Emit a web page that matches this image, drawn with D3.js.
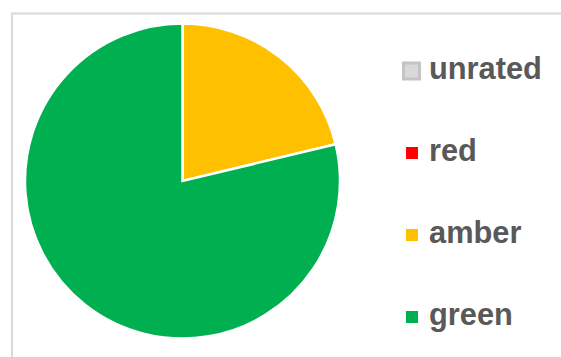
<!DOCTYPE html>
<html>
<head>
<meta charset="utf-8">
<script src="https://cdn.jsdelivr.net/npm/d3@7"></script>
<style>
  body { margin: 0; background: #fff; }
  svg { display: block; }
  .leg text { font-family: "Liberation Sans", Arial, sans-serif; font-weight: bold; font-size: 30.8px; fill: #595959; }
</style>
</head>
<body>
<svg id="chart"></svg>
<script>
// ratings and their counts
let categories = ['unrated', 'red', 'amber', 'green']
let counts = [0, 0, 17, 63]
let colors = ['#d9d9d9', '#ff0000', '#ffc000', '#00b050']

let width = 561
let height = 357

let svg = d3.select('#chart').attr('width', width).attr('height', height)

// chart area frame
svg.append('rect')
	.attr('x', 12).attr('y', 13.5)
	.attr('width', width + 10).attr('height', height + 10)
	.attr('fill', 'none')
	.attr('stroke', '#d9d9d9')
	.attr('stroke-width', 2)

let data = categories.map((c, i) => ({name: c, value: counts[i], color: colors[i]}))

let pie = d3.pie().sort(null).value(d => d.value)
let radius = 157.5
let arc = d3.arc().innerRadius(0).outerRadius(radius)

let pieG = svg.append('g')
	.attr('transform', `translate(182.5, 181)`)

pieG.selectAll('path')
	.data(pie(data).filter(d => d.data.value > 0))
	.enter().append('path')
	.attr('d', arc)
	.attr('fill', d => d.data.color)
	.attr('stroke', '#fff')
	.attr('stroke-width', 2.5)
	.attr('stroke-linejoin', 'miter')

// legend
let legY = d3.scalePoint()
	.domain(categories)
	.range([71, 317])

let leg = svg.append('g').attr('class', 'leg')

let items = leg.selectAll('g').data(data).enter().append('g')
	.attr('transform', d => `translate(0, ${legY(d.name)})`)

items.append('rect')
	.attr('x', d => d.name == 'unrated' ? 403.5 : 406)
	.attr('y', d => d.name == 'unrated' ? -8 : -6)
	.attr('width', d => d.name == 'unrated' ? 16 : 12)
	.attr('height', d => d.name == 'unrated' ? 16 : 12)
	.attr('fill', d => d.color)
	.attr('stroke', d => d.name == 'unrated' ? '#c4c4c4' : 'none')
	.attr('stroke-width', 3)

items.append('text')
	.attr('x', 429)
	.attr('y', 8)
	.text(d => d.name)
</script>
</body>
</html>
